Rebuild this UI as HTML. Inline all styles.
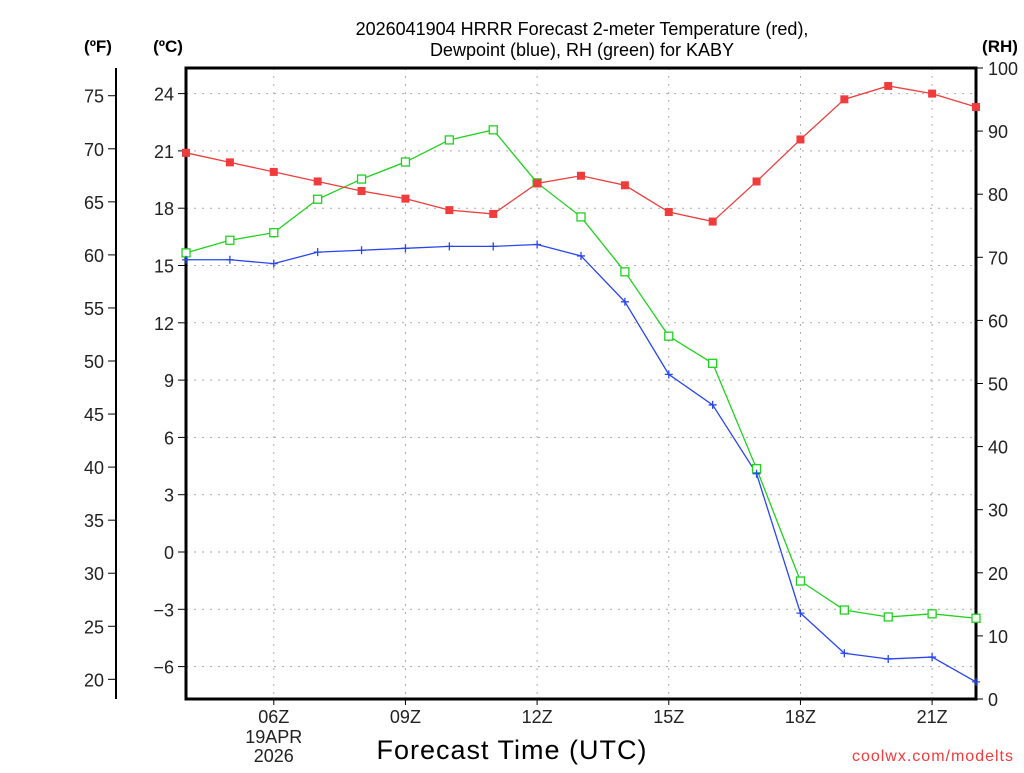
<!DOCTYPE html>
<html><head><meta charset="utf-8"><style>
body{margin:0;background:#fff;}
svg text{font-family:"Liberation Sans",sans-serif;}
</style></head><body>
<svg id="chart" width="1024" height="768" xmlns="http://www.w3.org/2000/svg">
<rect width="1024" height="768" fill="#fff"/>
<g id="grid"></g><g id="axes"></g><g id="series"></g>
<text x="582" y="35" font-size="18" text-anchor="middle" fill="#000">2026041904 HRRR Forecast 2-meter Temperature (red),</text>
<text x="582" y="56" font-size="18" text-anchor="middle" fill="#000">Dewpoint (blue), RH (green) for KABY</text>
<text x="98" y="52" font-size="17" font-weight="bold" text-anchor="middle">(ºF)</text>
<text x="168" y="52" font-size="17" font-weight="bold" text-anchor="middle">(ºC)</text>
<text x="1000" y="52" font-size="17" font-weight="bold" text-anchor="middle">(RH)</text>
<text x="512" y="759" font-size="27" text-anchor="middle" letter-spacing="1">Forecast Time (UTC)</text>
<text x="1014" y="761" font-size="16" text-anchor="end" fill="#f03c3c" letter-spacing="1">coolwx.com/modelts</text>
</svg>
<script>
const hours=[4,5,6,7,8,9,10,11,12,13,14,15,16,17,18,19,20,21,22];
const tempC=[20.9,20.4,19.9,19.4,18.9,18.5,17.9,17.7,19.3,19.7,19.2,17.8,17.3,19.4,21.6,23.7,24.4,24.0,23.3];
const dewC=[15.3,15.3,15.1,15.7,15.8,15.9,16.0,16.0,16.1,15.5,13.1,9.3,7.7,4.1,-3.2,-5.3,-5.6,-5.5,-6.8];
const rh=[70.7,72.7,73.9,79.2,82.4,85.1,88.6,90.2,81.8,76.4,67.7,57.5,53.2,36.5,18.7,14.1,13.0,13.5,12.8];
const timeTicks=[6,9,12,15,18,21];
const timeLabels=["06Z","09Z","12Z","15Z","18Z","21Z"];
const cTicks=[24,21,18,15,12,9,6,3,0,-3,-6];
const fTicks=[75,70,65,60,55,50,45,40,35,30,25,20];
const rhTicks=[100,90,80,70,60,50,40,30,20,10,0];
const NS="http://www.w3.org/2000/svg";
const L=186,R=976,T=68,B=699;
const x=h=>L+(h-4)*(R-L)/18;
const yC=c=>552-c*19.1;
const yF=f=>yC((f-32)*5/9);
const yR=r=>B-r*(B-T)/100;
function mk(tag,a,p){const e=document.createElementNS(NS,tag);for(const k in a)e.setAttribute(k,a[k]);p.appendChild(e);return e;}
const g=document.getElementById('grid'),ax=document.getElementById('axes'),s=document.getElementById('series');
cTicks.forEach(c=>{
 const l=mk('line',{x1:L,x2:R,y1:yC(c),y2:yC(c),stroke:'#aaa','stroke-dasharray':'2,6'},g);
 
 
 mk('line',{x1:L-8,x2:L,y1:yC(c),y2:yC(c),stroke:'#000'},ax);
 const t=mk('text',{x:L-12,y:yC(c)+7,'font-size':18,'text-anchor':'end',fill:'#222'},ax);t.textContent=c<0?'\u2212'+(-c):c;
 
 
});
timeTicks.forEach((h,i)=>{
 const l=mk('line',{x1:x(h),x2:x(h),y1:T,y2:B,stroke:'#aaa','stroke-dasharray':'2,6'},g);
 
 
 mk('line',{x1:x(h),x2:x(h),y1:B,y2:B+6,stroke:'#000'},ax);
 const t=mk('text',{x:x(h),y:B+24,'font-size':18,'text-anchor':'middle',fill:'#222'},ax);t.textContent=timeLabels[i];
 
 
});
[["19APR",743],["2026",762]].forEach(([txt,yy])=>{const t=mk('text',{x:x(6),y:yy,'font-size':18,'text-anchor':'middle',fill:'#222'},ax);t.textContent=txt;
 
 });
mk('line',{x1:116,x2:116,y1:T,y2:B,stroke:'#000','stroke-width':2},ax);
fTicks.forEach(f=>{
 mk('line',{x1:108,x2:116,y1:yF(f),y2:yF(f),stroke:'#000'},ax);
 const t=mk('text',{x:104,y:yF(f)+7,'font-size':18,'text-anchor':'end',fill:'#222'},ax);t.textContent=f;
 
 
});
rhTicks.forEach(r=>{
 mk('line',{x1:R,x2:R+7,y1:yR(r),y2:yR(r),stroke:'#000'},ax);
 const t=mk('text',{x:R+12,y:yR(r)+7,'font-size':18,'text-anchor':'start',fill:'#222'},ax);t.textContent=r;
 
 
});
const frame=mk('rect',{x:L,y:T,width:R-L,height:B-T,fill:'none',stroke:'#000','stroke-width':3},ax);


function line(vals,yf,col,name){
 const pl=mk('polyline',{points:vals.map((v,i)=>x(hours[i])+','+yf(v)).join(' '),fill:'none',stroke:col,'stroke-width':1.3},s);
 
 
}
line(rh,yR,'#1ed21e','rh');
line(tempC,yC,'#f03c3c','temperature');
line(dewC,yC,'#2846f0','dewpoint');
rh.forEach((v,i)=>{const m=mk('rect',{x:x(hours[i])-4,y:yR(v)-4,width:8,height:8,fill:'#fff',stroke:'#1ed21e','stroke-width':1.3},s);
 
 });
tempC.forEach((v,i)=>{const m=mk('rect',{x:x(hours[i])-4,y:yC(v)-4,width:8,height:8,fill:'#f03c3c'},s);
 
 });
dewC.forEach((v,i)=>{const m=mk('path',{d:`M${x(hours[i])-4},${yC(v)}h8M${x(hours[i])},${yC(v)-4}v8`,stroke:'#2846f0','stroke-width':1.3},s);
 
 });
</script>
</body></html>
